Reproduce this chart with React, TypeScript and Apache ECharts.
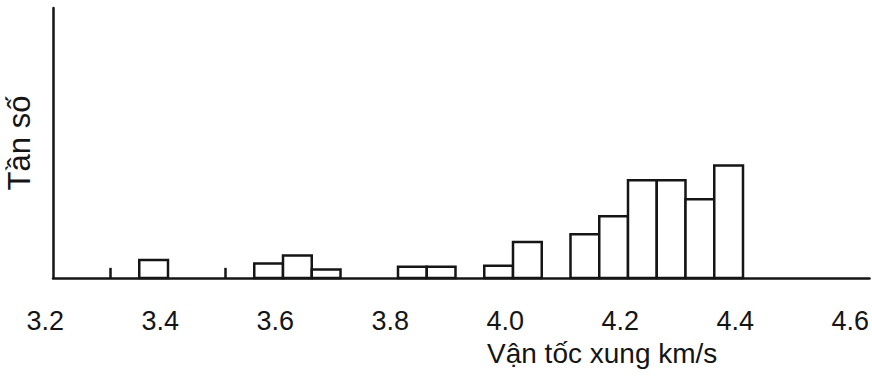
import React, { useEffect, useRef } from "react";
import * as echarts from "echarts";

// Histogram bins (km/s) and relative frequencies
const binStart = [3.35, 3.55, 3.6, 3.65, 3.8, 3.85, 3.95, 4.0, 4.1, 4.15, 4.2, 4.25, 4.3, 4.35];
const binEnd = [3.4, 3.6, 3.65, 3.7, 3.85, 3.9, 4.0, 4.05, 4.15, 4.2, 4.25, 4.3, 4.35, 4.4];
const freq = [1.6, 1.3, 2.0, 0.75, 1.0, 1.0, 1.1, 3.2, 3.9, 5.5, 8.7, 8.7, 7.0, 10.0];
// small marks standing on the axis
const markX = [3.3, 3.5];
const markH = [0.9, 0.9];
const xTitle = "Vận tốc xung km/s";
const yTitle = "Tần số";

export default function App() {
  const ref = useRef<HTMLDivElement>(null);
  useEffect(() => {
    if (!ref.current) return;
    const chart = echarts.init(ref.current, null, { renderer: "svg" });
    const ink = "#151515";
    const font = "'Liberation Sans', Arial, sans-serif";
    const data = binStart.map((s, i) => [s, binEnd[i], freq[i]]);
    chart.setOption({
      animation: false,
      backgroundColor: "#ffffff",
      grid: {
        left: 53,
        right: 2.5,
        top: 8,
        bottom: 109,
        containLabel: false,
        outerBoundsMode: "none",
      },
      xAxis: {
        type: "value",
        min: 3.2,
        max: 4.62,
        interval: 0.2,
        axisLine: { show: true, lineStyle: { color: ink, width: 2.5 } },
        axisTick: { show: false },
        splitLine: { show: false },
        axisLabel: {
          color: ink,
          fontFamily: font,
          fontSize: 27,
          margin: 29,
          showMaxLabel: false,
          formatter: (v: number) =>
            Math.abs(v * 5 - Math.round(v * 5)) < 1e-6 ? `{t|${v.toFixed(1)}}` : "",
          rich: {
            t: {
              color: ink,
              fontFamily: font,
              fontSize: 27,
              width: 53,
              align: "left",
            },
          },
        },
      },
      yAxis: {
        type: "value",
        min: 0,
        max: 24,
        axisLine: { show: true, lineStyle: { color: ink, width: 2.5 } },
        axisTick: { show: false },
        axisLabel: { show: false },
        splitLine: { show: false },
        name: yTitle,
        nameLocation: "middle",
        nameGap: 18,
        nameTextStyle: { color: ink, fontFamily: font, fontSize: 31 },
      },
      graphic: [
        {
          type: "text",
          left: 605 - 118,
          top: 339,
          style: {
            text: xTitle,
            fill: ink,
            font: `28px ${font}`,
          },
        },
      ],
      series: [
        {
          type: "custom",
          data,
          encode: { x: [0, 1], y: 2 },
          renderItem: (params: any, api: any) => {
            const p0 = api.coord([api.value(0), api.value(2)]);
            const p1 = api.coord([api.value(1), 0]);
            return {
              type: "rect",
              shape: { x: p0[0], y: p0[1], width: p1[0] - p0[0], height: p1[1] - p0[1] },
              style: { fill: "#ffffff", stroke: ink, lineWidth: 2.5 },
            };
          },
        },
        {
          type: "custom",
          data: markX.map((x, i) => [x, markH[i]]),
          renderItem: (params: any, api: any) => {
            const a = api.coord([api.value(0), 0]);
            const b = api.coord([api.value(0), api.value(1)]);
            return {
              type: "line",
              shape: { x1: a[0], y1: a[1], x2: b[0], y2: b[1] },
              style: { stroke: ink, lineWidth: 2.5 },
            };
          },
        },
      ],
    });
    return () => chart.dispose();
  }, []);
  return (
    <div
      ref={ref}
      style={{ position: "absolute", left: 0, top: 0, width: 872, height: 387 }}
    />
  );
}
